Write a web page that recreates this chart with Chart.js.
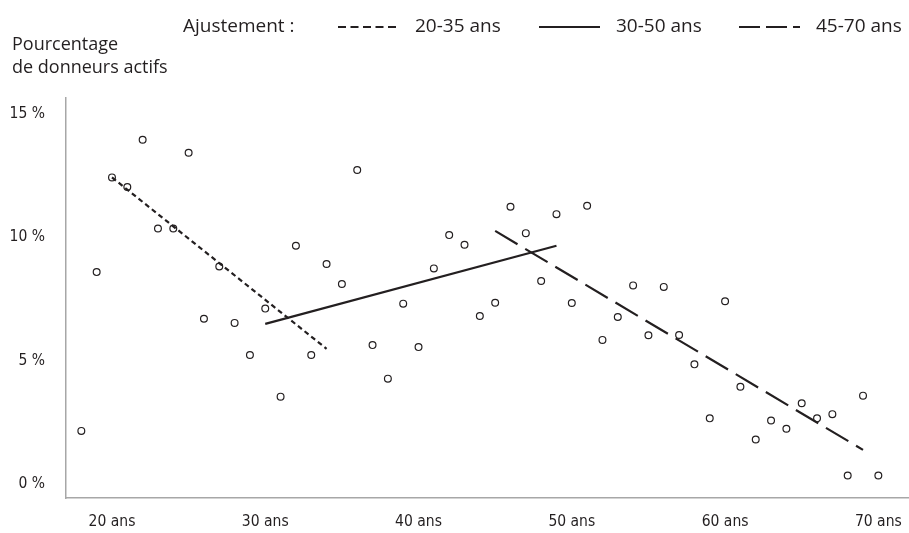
<!DOCTYPE html>
<html>
<head>
<meta charset="utf-8">
<script src="https://cdn.jsdelivr.net/npm/chart.js@4.4.1/dist/chart.umd.min.js"></script>
<style>
  html, body { margin: 0; padding: 0; background: #fff; }
  #wrap { width: 909px; height: 533px; position: relative; }
</style>
</head>
<body>
<div id="wrap"><canvas id="donneurs"></canvas></div>
<script>
// ages (x) and share of active donors (%)
var ages = [18, 19, 20, 21, 22, 23, 24, 25, 26, 27, 28, 29, 30, 31, 32, 33, 34, 35,
            36, 37, 38, 39, 40, 41, 42, 43, 44, 45, 46, 47, 48, 49, 50, 51, 52, 53,
            54, 55, 56, 57, 58, 59, 60, 61, 62, 63, 64, 65, 66, 67, 68, 69, 70];
var donneursActifs = [2.15, 8.59, 12.43, 12.04, 13.96, 10.36, 10.36, 13.43, 6.70, 8.82,
                      6.53, 5.23, 7.11, 3.54, 9.66, 5.23, 8.92, 8.11, 12.73, 5.63,
                      4.27, 7.31, 5.55, 8.74, 10.09, 9.70, 6.81, 7.35, 11.24, 10.17,
                      8.23, 10.94, 7.34, 11.28, 5.84, 6.77, 8.05, 6.03, 7.99, 6.04,
                      4.85, 2.66, 7.41, 3.94, 1.80, 2.57, 2.24, 3.27, 2.66, 2.83,
                      0.34, 3.58, 0.34];

// fitted lines (end points)
var ajust2035X = [20, 34];
var ajust2035Y = [12.43, 5.48];
var ajust3050X = [30, 49];
var ajust3050Y = [6.49, 9.66];
var ajust4570X = [45, 69];
var ajust4570Y = [10.26, 1.38];

var legendLabels = ["20-35 ans", "30-50 ans", "45-70 ans"];
var xTicks = [20, 30, 40, 50, 60, 70];
var yTicks = [0, 5, 10, 15];

var ink = "#231f20";
var axisGrey = "#a7a7a7";
var narrow = "'DejaVu Sans Condensed', 'Liberation Sans Narrow', sans-serif";
var regular = "'Open Sans', 'Noto Sans', sans-serif";

function toPoints(xs, ys) {
    var pts = [];
    for (var i = 0; i < xs.length; i++) {
        pts.push({x: xs[i], y: ys[i]});
    }
    return pts;
}

function fitLine(label, xs, ys, dash) {
    return {
        label: label,
        data: toPoints(xs, ys),
        showLine: true,
        borderColor: ink,
        borderWidth: 2.2,
        borderDash: dash,
        borderCapStyle: 'butt',
        pointRadius: 0,
        pointHoverRadius: 0,
        fill: false
    };
}

function noPadding(scale) {
    scale.paddingLeft = 0;
    scale.paddingRight = 0;
    scale.paddingTop = 0;
    scale.paddingBottom = 0;
}

// legend + y axis title drawn on the canvas
var legendDash = [[8, 4.5], [], [21, 6]];
var legendePlugin = {
    id: 'legendeAjustement',
    afterDraw: function(chart) {
        var ctx = chart.ctx;
        ctx.save();
        ctx.fillStyle = ink;
        ctx.font = "18px " + regular;
        ctx.textBaseline = 'alphabetic';
        ctx.textAlign = 'left';
        ctx.fillText("Pourcentage", 12, 50);
        ctx.fillText("de donneurs actifs", 12, 73);

        ctx.font = "19px " + regular;
        ctx.textBaseline = 'middle';
        ctx.fillText("Ajustement :", 183, 27);

        var lineStarts = [338, 539, 739];
        for (var i = 0; i < legendLabels.length; i++) {
            var ds = chart.data.datasets[i + 1];
            ctx.beginPath();
            ctx.setLineDash(legendDash[i]);
            ctx.lineWidth = ds.borderWidth;
            ctx.strokeStyle = ink;
            ctx.moveTo(lineStarts[i], 27);
            ctx.lineTo(lineStarts[i] + 61, 27);
            ctx.stroke();
            ctx.setLineDash([]);
            ctx.fillText(legendLabels[i], lineStarts[i] + 77, 27);
        }
        ctx.restore();
    }
};

var chart = new Chart(document.getElementById('donneurs'), {
    type: 'scatter',
    data: {
        datasets: [
            {
                label: 'Donneurs actifs',
                data: toPoints(ages, donneursActifs),
                pointRadius: 3.4,
                pointHoverRadius: 3.4,
                pointBorderWidth: 1.2,
                pointBorderColor: ink,
                pointBackgroundColor: 'rgba(255,255,255,0)',
                showLine: false
            },
            fitLine(legendLabels[0], ajust2035X, ajust2035Y, [5, 3.5]),
            fitLine(legendLabels[1], ajust3050X, ajust3050Y, []),
            fitLine(legendLabels[2], ajust4570X, ajust4570Y, [26, 9])
        ]
    },
    options: {
        responsive: true,
        maintainAspectRatio: false,
        animation: false,
        layout: { autoPadding: false, padding: { top: 98, left: 0, right: 0, bottom: 0 } },
        plugins: {
            legend: { display: false },
            tooltip: { enabled: false }
        },
        scales: {
            x: {
                type: 'linear',
                min: 17,
                max: 72,
                grid: { display: false, drawTicks: false },
                border: { color: axisGrey, width: 1.5 },
                afterBuildTicks: function(scale) {
                    scale.ticks = xTicks.map(function(v) { return {value: v}; });
                },
                afterFit: function(scale) {
                    scale.height = 35;
                    noPadding(scale);
                },
                ticks: {
                    padding: 15,
                    color: ink,
                    font: { family: narrow, size: 15.5 },
                    maxRotation: 0,
                    callback: function(v) { return v + ' ans'; }
                }
            },
            y: {
                min: -0.57,
                max: 15.65,
                grid: { display: false, drawTicks: false },
                border: { color: axisGrey, width: 1.5 },
                afterBuildTicks: function(scale) {
                    scale.ticks = yTicks.map(function(v) { return {value: v}; });
                },
                afterFit: function(scale) {
                    scale.width = 66;
                    noPadding(scale);
                },
                ticks: {
                    padding: 21,
                    color: ink,
                    font: { family: narrow, size: 15.5 },
                    callback: function(v) { return v + ' %'; }
                }
            }
        }
    },
    plugins: [legendePlugin]
});
</script>
</body>
</html>
